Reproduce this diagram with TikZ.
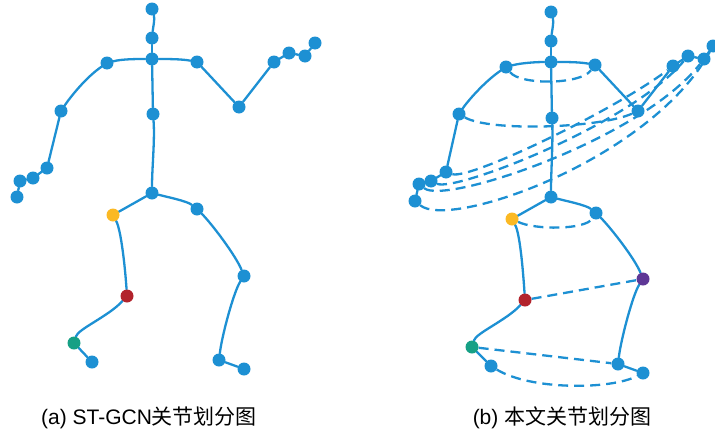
\documentclass[tikz,border=0pt]{standalone}
\usepackage{fontspec}
\setmainfont{Liberation Sans}
\newfontfamily\cjk{Noto Sans CJK SC}
\usetikzlibrary{backgrounds}
\definecolor{bone}{RGB}{29,144,211}
\definecolor{jyellow}{RGB}{251,185,36}
\definecolor{jred}{RGB}{178,35,44}
\definecolor{jgreen}{RGB}{22,160,133}
\definecolor{jpurple}{RGB}{94,55,150}
\tikzset{
  joint/.style={circle, fill=#1, draw=none, minimum size=13pt, inner sep=0pt},
  joint/.default=bone,
  limb/.style={draw=bone, line width=2.3pt, line cap=round},
  link/.style={draw=bone, line width=2.3pt, dash pattern=on 10pt off 6pt},
  caption/.style={font=\fontsize{21}{24}\selectfont, inner sep=0pt}
}
\begin{document}
\begin{tikzpicture}[x=1pt, y=-1pt]
\useasboundingbox (0,0) rectangle (715,434);

% ---------- (a) ST-GCN partition ----------
\node[joint] (a-head)   at (152,9) {};
\node[joint] (a-neck)   at (152,38) {};
\node[joint] (a-top)    at (152,59) {};
\node[joint] (a-mid)    at (153,114) {};
\node[joint] (a-base)   at (152,193) {};
\node[joint] (a-lsh)    at (107,63) {};
\node[joint] (a-lel)    at (61,111) {};
\node[joint] (a-lwr)    at (47,168) {};
\node[joint] (a-lha)    at (33,178) {};
\node[joint] (a-ltip)   at (20,181) {};
\node[joint] (a-lth)    at (17,197) {};
\node[joint] (a-rsh)    at (197,62) {};
\node[joint] (a-rel)    at (239,107) {};
\node[joint] (a-rwr)    at (274,62) {};
\node[joint] (a-rha)    at (289,53) {};
\node[joint] (a-rtip)   at (305,56) {};
\node[joint] (a-rth)    at (315,43) {};
\node[joint=jyellow] (a-lhip) at (113,215) {};
\node[joint=jred]    (a-lkn)  at (127,296) {};
\node[joint=jgreen]  (a-lan)  at (74,343) {};
\node[joint] (a-lft)    at (92,362) {};
\node[joint] (a-rhip)   at (197,209) {};
\node[joint] (a-rkn)    at (244,276) {};
\node[joint] (a-ran)    at (219,360) {};
\node[joint] (a-rft)    at (244,369) {};

\begin{pgfonlayer}{background}
  \path[limb] (a-head) .. controls +(3,10) and +(1,-10) .. (a-neck);
  \path[limb] (a-neck) -- (a-top);
  \path[limb] (a-top) -- (a-mid);
  \path[limb] (a-mid) .. controls +(2,25) and +(0,-25) .. (a-base);
  \path[limb] (a-top) .. controls +(-15,0) and +(15,-4) .. (a-lsh);
  \path[limb] (a-lsh) .. controls +(-22,15) and +(8,-12) .. (a-lel);
  \path[limb] (a-lel) -- (a-lwr) -- (a-lha) -- (a-ltip) -- (a-lth);
  \path[limb] (a-top) .. controls +(15,0) and +(-15,-3) .. (a-rsh);
  \path[limb] (a-rsh) -- (a-rel) -- (a-rwr) -- (a-rha) -- (a-rtip) -- (a-rth);
  \path[limb] (a-base) -- (a-lhip);
  \path[limb] (a-lhip) .. controls +(8,15) and +(-2,-30) .. (a-lkn);
  \path[limb] (a-lkn) .. controls +(-18,20) and +(4,-14) .. (a-lan);
  \path[limb] (a-lan) -- (a-lft);
  \path[limb] (a-base) .. controls +(15,4) and +(-10,-8) .. (a-rhip);
  \path[limb] (a-rhip) .. controls +(15,15) and +(-8,-20) .. (a-rkn);
  \path[limb] (a-rkn) .. controls +(-10,15) and +(3,-25) .. (a-ran);
  \path[limb] (a-ran) -- (a-rft);
\end{pgfonlayer}

% ---------- (b) proposed partition ----------
\node[joint] (b-head)   at (551,12) {};
\node[joint] (b-neck)   at (551,41) {};
\node[joint] (b-top)    at (551,62) {};
\node[joint] (b-mid)    at (552,118) {};
\node[joint] (b-base)   at (551,197) {};
\node[joint] (b-lsh)    at (506,67) {};
\node[joint] (b-lel)    at (459,114) {};
\node[joint] (b-lwr)    at (446,172) {};
\node[joint] (b-lha)    at (431,181) {};
\node[joint] (b-ltip)   at (419,184) {};
\node[joint] (b-lth)    at (415,201) {};
\node[joint] (b-rsh)    at (595,65) {};
\node[joint] (b-rel)    at (638,111) {};
\node[joint] (b-rwr)    at (673,66) {};
\node[joint] (b-rha)    at (688,56) {};
\node[joint] (b-rtip)   at (704,59) {};
\node[joint] (b-rth)    at (713,46) {};
\node[joint=jyellow] (b-lhip) at (512,219) {};
\node[joint=jred]    (b-lkn)  at (525,300) {};
\node[joint=jgreen]  (b-lan)  at (472,347) {};
\node[joint] (b-lft)    at (491,366) {};
\node[joint] (b-rhip)   at (596,213) {};
\node[joint=jpurple] (b-rkn)  at (643,279) {};
\node[joint] (b-ran)    at (618,364) {};
\node[joint] (b-rft)    at (643,373) {};

\begin{pgfonlayer}{background}
  \path[limb] (b-head) .. controls +(3,10) and +(1,-10) .. (b-neck);
  \path[limb] (b-neck) -- (b-top);
  \path[limb] (b-top) -- (b-mid);
  \path[limb] (b-mid) .. controls +(1,25) and +(0,-25) .. (b-base);
  \path[limb] (b-top) .. controls +(-15,0) and +(15,-4) .. (b-lsh);
  \path[limb] (b-lsh) .. controls +(-22,15) and +(8,-12) .. (b-lel);
  \path[limb] (b-lel) -- (b-lwr) -- (b-lha) -- (b-ltip) -- (b-lth);
  \path[limb] (b-top) .. controls +(15,0) and +(-15,-3) .. (b-rsh);
  \path[limb] (b-rsh) -- (b-rel) -- (b-rwr) -- (b-rha) -- (b-rtip) -- (b-rth);
  \path[limb] (b-base) -- (b-lhip);
  \path[limb] (b-lhip) .. controls +(8,15) and +(-2,-30) .. (b-lkn);
  \path[limb] (b-lkn) .. controls +(-18,20) and +(4,-14) .. (b-lan);
  \path[limb] (b-lan) -- (b-lft);
  \path[limb] (b-base) .. controls +(15,4) and +(-10,-8) .. (b-rhip);
  \path[limb] (b-rhip) .. controls +(15,15) and +(-8,-20) .. (b-rkn);
  \path[limb] (b-rkn) .. controls +(-10,15) and +(3,-25) .. (b-ran);
  \path[limb] (b-ran) -- (b-rft);

  % symmetric joint pairs
  \path[link] (b-lsh) .. controls (520,85) and (580,85) .. (b-rsh);
  \path[link] (b-lel) .. controls (490,132) and (600,128) .. (b-rel);
  \path[link] (b-lwr) .. controls (470,180) and (615,110) .. (b-rwr);
  \path[link] (b-lha) .. controls (455,192) and (630,125) .. (b-rha);
  \path[link] (b-ltip) .. controls (445,205) and (640,140) .. (b-rtip);
  \path[link] (b-lth) .. controls (450,230) and (650,160) .. (b-rth);
  \path[link] (b-lhip) .. controls (535,230) and (585,230) .. (b-rhip);
  \path[link] (b-lkn) -- (b-rkn);
  \path[link] (b-lan) -- (b-ran);
  \path[link] (b-lft) .. controls (530,390) and (610,390) .. (b-rft);
\end{pgfonlayer}

% ---------- captions ----------
\node[caption] (cap-a) at (149,418) {(a) ST-GCN{\cjk 关节划分图}};
\node[caption] (cap-b) at (562,418) {(b) {\cjk 本文关节划分图}};
\end{tikzpicture}
\end{document}
